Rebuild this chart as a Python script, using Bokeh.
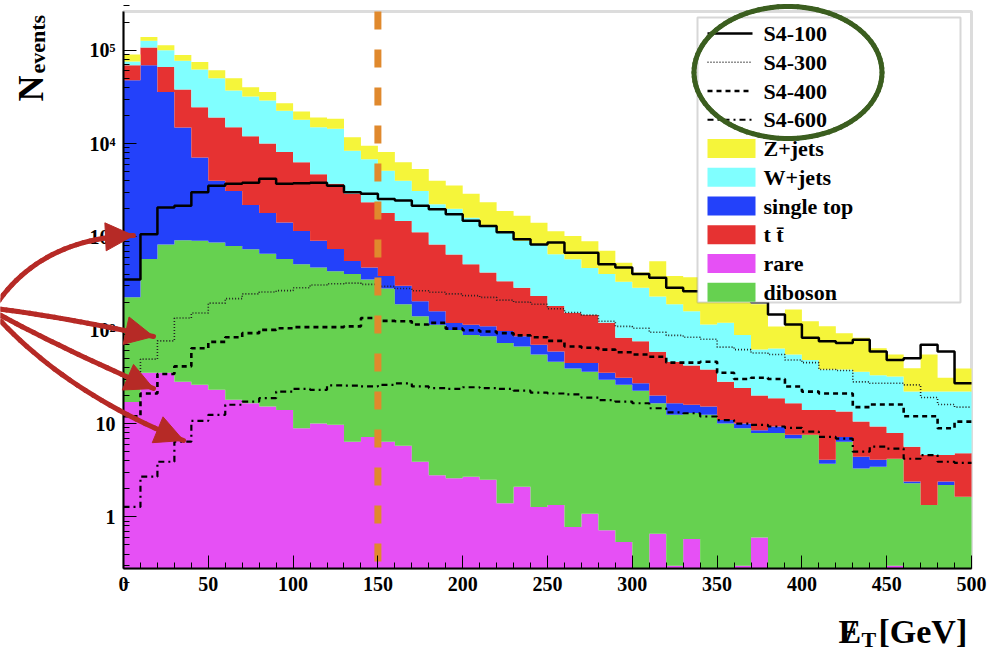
import math
from bokeh.plotting import figure
from bokeh.models import (ColumnDataSource, Label, Arrow, NormalHead, FixedTicker,
                          Range1d, BoxAnnotation)
from bokeh.embed import file_html
from bokeh.resources import INLINE

# ---------------- data (events per 10 GeV bin) ----------------
bin_edges = list(range(0, 510, 10))

rare = [17, 35, 35, 28, 26, 23, 18, 16.5, 15.2, 14,
        8.9, 10, 9.7, 6.4, 7.2, 6.4, 5.8, 3.9, 2.8, 2.6,
        2.7, 2.5, 1.4, 2.1, 1.28, 1.34, 0.78, 1.08, 0.72, 0.54,
        0, 0.66, 0.3, 0.58, 0, 0, 0.3, 0.6, 0, 0,
        0, 0, 0, 0, 0, 0.3, 0, 0, 0, 0]
diboson = [208, 545, 795, 892, 884, 847, 782, 723, 645, 566,
           501, 460, 420, 394, 343, 274, 184, 137, 112, 98,
           86, 83.5, 71.6, 64.9, 53.7, 44.7, 38.2, 34.9, 28.8, 25.5,
           22.5, 15.8, 12.1, 12.4, 12.4, 10, 8.6, 7.3, 7.9, 6.9,
           7.6, 3.7, 6.4, 3.3, 3.45, 3.9, 2.3, 1.34, 2.2, 1.64]
single_top = [47600, 68400, 34800, 13900, 6190, 3130, 2300, 1460, 1140, 850,
              650, 440, 310, 150, 120, 100, 110, 64, 45, 19,
              26, 24, 25, 19, 15, 13, 5.6, 8.6, 5.5, 5,
              4.5, 3.5, 4.1, 2.9, 2.8, 0.9, 1.1, 0.6, 1.4, 0.7,
              0, 0.4, 0.8, 1.1, 0.65, 0, 0.1, 0, 0.2, 0]
ttbar = [21000, 38000, 30400, 23200, 17400, 15000, 11900, 9800, 8200, 6670,
         5140, 3790, 2960, 2350, 1880, 1420, 1180, 915, 670, 530,
         395, 305, 237, 199, 162, 123, 108, 102, 85, 52,
         49, 39, 29.5, 26, 22.8, 17.1, 14, 11.5, 9.4, 8.9,
         6.4, 9.9, 6.3, 6.1, 5.2, 3.7, 3.25, 3.26, 2.2, 3.16]
wjets = [7000, 19000, 34000, 39000, 37500, 31000, 22000, 20000, 19000, 14400,
         11700, 10300, 10700, 5500, 4450, 3300, 2520, 1980, 1410, 1350,
         1090, 895, 785, 625, 598, 468, 422, 318, 280, 247,
         209, 171, 144, 118, 77, 92, 65, 42, 45, 38.5,
         34, 24, 24.5, 25.5, 23.7, 24, 16.4, 17.4, 17.4, 17.2]
zjets = [14000, 13000, 13000, 12000, 13000, 11000, 13000, 8000, 6600, 4500,
         4000, 4000, 4000, 3300, 2700, 3000, 2300, 2250, 1760, 1550,
         1300, 1040, 780, 780, 590, 500, 445, 435, 310, 200,
         130, 320, 190, 210, 185, 130, 131, 128, 46, 112,
         77, 72, 55, 47, 31, 23, 17, 33, 9, 17]

s4_100 = [350, 1070, 2070, 2150, 3000, 3540, 3700, 3800, 4200, 3700,
          3750, 3800, 3540, 3000, 2900, 2540, 2450, 2150, 1980, 1750,
          1490, 1310, 1120, 945, 830, 870, 675, 675, 510, 470,
          400, 365, 285, 262, 245, 230, 215, 200, 147, 115,
          83, 76, 73, 79, 59, 48, 50, 70, 59, 27]
s4_300 = [30, 49, 77, 135, 153, 195, 218, 245, 257, 266,
          285, 305, 315, 320, 310, 295, 280, 265, 255, 245,
          235, 225, 210, 200, 190, 170, 155, 145, 125, 110,
          105, 95, 88, 84, 80, 66, 62, 57, 55, 48,
          45, 38, 37, 28, 27, 27, 26, 19, 16, 15]
s4_400 = [12, 21, 34, 41, 64, 75, 84, 93, 101, 105,
          108, 108, 108, 110, 135, 126, 125, 115, 120, 104,
          100, 97, 93, 88, 84, 77, 67, 65, 62, 58,
          55, 52, 45, 45, 46, 35, 30, 31, 30, 25,
          22, 21, 21, 15, 16, 16, 12, 12, 8.9, 10.5]
s4_600 = [1.28, 2.7, 3.9, 6.4, 10.7, 12.4, 15.9, 17.2, 18.7, 22,
          23.5, 23, 25.7, 25.5, 25, 26, 27, 25, 24, 23.5,
          24.5, 24, 23.5, 22.5, 21.5, 21, 20.5, 19, 17.8, 17.2,
          16.5, 14.6, 13.2, 12.9, 11.9, 10.9, 10, 9.7, 9.3, 9,
          8.2, 7.2, 6.9, 5, 5.65, 5.4, 4.2, 4.6, 3.9, 3.8]

x_ticks = [0, 50, 100, 150, 200, 250, 300, 350, 400, 450, 500]
y_ticks = [1, 10, 100, 1000, 10000, 100000]
y_tick_labels = {1: "1", 10: "10", 100: "10\u00b2", 1000: "10\u00b3",
                 10000: "10\u2074", 100000: "10\u2075"}
cut_value = 150

FONT = "Liberation Serif"

# ---------------- geometry: the frame covers the whole canvas ----------------
W, H = 1001, 652
FL, FR, FT, FB = 123, 971, 11, 568        # data-area box in pixels
X0, X1 = 0, 500
Y0, Y1 = 0.28, 2.6e5
ppx = (FR - FL) / (X1 - X0)
ppd = (FB - FT) / (math.log10(Y1) - math.log10(Y0))
x_range = Range1d(X0 - FL / ppx, X1 + (W - FR) / ppx)
y_range = Range1d(10 ** (math.log10(Y0) - (H - FB) / ppd), 10 ** (math.log10(Y1) + FT / ppd))

def px2x(X):
    return X0 + (X - FL) / ppx

def px2y(Y):
    return 10 ** (math.log10(Y0) + (FB - Y) / ppd)

p = figure(width=W, height=H, output_backend="svg", toolbar_location=None,
           x_range=x_range, y_range=y_range, y_axis_type="log",
           min_border=0, min_border_left=0, min_border_right=0,
           min_border_top=0, min_border_bottom=0,
           background_fill_color="white", border_fill_color="white")
p.xgrid.visible = False
p.ygrid.visible = False
p.outline_line_color = None

# plot box
p.add_layout(BoxAnnotation(left=X0, right=X1, bottom=Y0, top=Y1, fill_alpha=0,
                           line_color="#8a8a8a", line_width=3, level="underlay"))

stack = [("rare", rare, "#e650f5"),
         ("diboson", diboson, "#66d150"),
         ("single top", single_top, "#2341fa"),
         ("t t\u0304", ttbar, "#e63232"),
         ("W+jets", wjets, "#80ffff"),
         ("Z+jets", zjets, "#f5f53a")]
colors = {}
running = [0.0] * len(rare)
for name, vals, color in stack:
    top = [a + b for a, b in zip(running, vals)]
    y1 = [max(v, Y0) for v in running] + [max(running[-1], Y0)]
    y2 = [max(v, Y0) for v in top] + [max(top[-1], Y0)]
    src = ColumnDataSource(dict(x=bin_edges, y1=y1, y2=y2))
    p.varea_step(x="x", y1="y1", y2="y2", step_mode="after", source=src, fill_color=color)
    colors[name] = color
    running = top

sig_styles = [("S4-100", s4_100, "solid", 2.5, "black"),
              ("S4-300", s4_300, "1 2", 1.6, "#222222"),
              ("S4-400", s4_400, "5 4", 2.6, "black"),
              ("S4-600", s4_600, "6 4 2 4", 2.2, "black")]
for name, vals, dash, lw, col in sig_styles:
    src = ColumnDataSource(dict(x=bin_edges, y=list(vals) + [vals[-1]]))
    p.step(x="x", y="y", mode="after", source=src, line_color=col,
           line_width=lw, line_dash=dash)

# cut line at 150 GeV
p.segment(x0=[cut_value], y0=[Y1], x1=[cut_value], y1=[Y0], line_color="#e0892d",
          line_width=7, line_dash="18 20")

# ---------------- axes (fixed inside the full-canvas frame) ----------------
p.xaxis.fixed_location = Y0
p.yaxis.fixed_location = X0
p.xaxis.bounds = (X0, X1)
p.yaxis.bounds = (Y0, Y1)
p.xaxis.ticker = FixedTicker(ticks=x_ticks, minor_ticks=list(range(0, 501, 10)))
p.yaxis.ticker = FixedTicker(ticks=y_ticks,
                             minor_ticks=[m * 10.0 ** e for e in range(-1, 6) for m in range(2, 10)])
p.yaxis.major_label_overrides = y_tick_labels
for ax in (p.xaxis, p.yaxis):
    ax.major_tick_in = 13
    ax.major_tick_out = 0
    ax.minor_tick_in = 6
    ax.minor_tick_out = 0
    ax.major_tick_line_color = "black"
    ax.minor_tick_line_color = "black"
    ax.axis_line_color = "black"
    ax.axis_line_width = 2
    ax.major_label_text_font = FONT
    ax.major_label_text_font_style = "bold"
    ax.major_label_text_font_size = "20px"
    ax.major_label_text_color = "black"
p.xaxis.major_label_standoff = 8
p.yaxis.major_label_standoff = 8

def lab(text, X, Y, size, angle=0.0):
    p.add_layout(Label(x=X, y=H - Y, x_units="screen", y_units="screen",
                       text=text, text_font=FONT, text_font_style="bold",
                       text_font_size=size, text_color="black", angle=angle,
                       text_align="left", text_baseline="alphabetic"))

# y title N_events (rotated, reading upwards)
lab("N", 30, 101, "36px", angle=math.pi / 2)
lab("events", 37, 73, "22px", angle=math.pi / 2)
# x title  E_T [GeV]  (missing-energy E)
lab("E", 838, 631, "34px")
lab("/", 845, 631, "34px")
lab("T", 861, 639, "22px")
lab("[GeV]", 878, 631, "34px")

# ---------------- helpers for screen-space strokes ----------------
def add_polyline(pts, color, width, head=None, level="annotation", dash="solid", cap="round"):
    xs = [q[0] for q in pts]
    ys = [H - q[1] for q in pts]
    src = ColumnDataSource(dict(x0=xs[:-1], y0=ys[:-1], x1=xs[1:], y1=ys[1:]))
    p.add_layout(Arrow(x_start="x0", y_start="y0", x_end="x1", y_end="y1",
                       start_units="screen", end_units="screen", source=src,
                       start=None, end=None, line_color=color, line_width=width,
                       line_cap=cap, line_dash=dash, level=level))
    if head is not None:
        p.add_layout(Arrow(x_start=xs[-2], y_start=ys[-2], x_end=xs[-1], y_end=ys[-1],
                           start_units="screen", end_units="screen", start=None,
                           end=NormalHead(size=head, fill_color=color, line_color=color),
                           line_color=color, line_width=width, level=level))

# ---------------- legend (drawn as annotations) ----------------
p.add_layout(BoxAnnotation(left=px2x(697), right=px2x(960), top=px2y(17), bottom=px2y(302),
                           fill_color="white", fill_alpha=1.0, line_color="#7a7a7a",
                           line_width=2))
legend_entries = [("S4-100", "line"), ("S4-300", "line"), ("S4-400", "line"), ("S4-600", "line"),
                  ("Z+jets", "fill"), ("W+jets", "fill"), ("single top", "fill"),
                  ("t t\u0304", "fill"), ("rare", "fill"), ("diboson", "fill")]
line_style = {n: (d, w, c) for n, _, d, w, c in sig_styles}
for k, (name, kind) in enumerate(legend_entries):
    yc = 33 + 28.75 * k
    if kind == "line":
        d, w, c = line_style[name]
        add_polyline([(707, yc), (752, yc)], c, w, dash=d, cap="butt")
    else:
        p.add_layout(BoxAnnotation(left=px2x(707), right=px2x(755), top=px2y(yc - 9.5),
                                   bottom=px2y(yc + 9.5), fill_color=colors[name],
                                   fill_alpha=1.0, line_color=None))
    p.add_layout(Label(x=763, y=H - yc, x_units="screen", y_units="screen", text=name,
                       text_font=FONT, text_font_style="bold", text_font_size="22px",
                       text_color="black", text_align="left", text_baseline="alphabetic"))

# ---------------- annotations (red arrows, green ellipse) ----------------
def bez(p0, c, p1, n=24):
    out = []
    for i in range(n + 1):
        t = i / n
        out.append(((1 - t) ** 2 * p0[0] + 2 * (1 - t) * t * c[0] + t ** 2 * p1[0],
                    (1 - t) ** 2 * p0[1] + 2 * (1 - t) * t * c[1] + t ** 2 * p1[1]))
    return out

RED = "#b62a26"
for p0, c, p1 in [((-5, 305), (40, 238), (133, 235)),
                  ((-5, 308), (60, 316), (153, 336)),
                  ((-5, 312), (55, 345), (153, 388)),
                  ((-5, 315), (65, 392), (183, 440))]:
    add_polyline(bez(p0, c, p1), RED, 5, head=28)

ell = [(787.5 + 94 * math.cos(2 * math.pi * k / 90), 72 + 66 * math.sin(2 * math.pi * k / 90))
       for k in range(91)]
add_polyline(ell, "#3b5e1f", 5, level="overlay")

open("out.html", "w").write(file_html(p, INLINE))
